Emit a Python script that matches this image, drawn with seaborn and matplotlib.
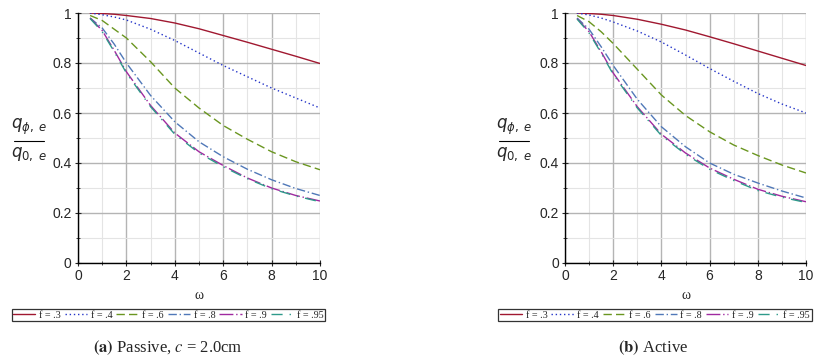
import numpy as np
import pandas as pd
import matplotlib
matplotlib.use("Agg")
import matplotlib.pyplot as plt
from matplotlib.lines import Line2D
from matplotlib.ticker import MultipleLocator
import seaborn as sns

# omega values shared by every curve
omega = [0.5, 1, 1.5, 2, 3, 4, 5, 6, 7, 8, 9, 10]
f_labels = ['f = .3', 'f = .4', 'f = .6', 'f = .8', 'f = .9', 'f = .95']

# (a) passive
passive_f3 = [1.0, 0.998, 0.995, 0.99, 0.978, 0.96, 0.937, 0.91, 0.883, 0.855, 0.827, 0.798]
passive_f4 = [1.0, 0.993, 0.984, 0.972, 0.935, 0.89, 0.84, 0.79, 0.745, 0.70, 0.66, 0.62]
passive_f6 = [0.99, 0.97, 0.935, 0.90, 0.805, 0.70, 0.62, 0.55, 0.495, 0.445, 0.405, 0.373]
passive_f8 = [0.98, 0.94, 0.875, 0.80, 0.67, 0.565, 0.485, 0.425, 0.375, 0.333, 0.298, 0.27]
passive_f9 = [0.98, 0.93, 0.85, 0.765, 0.63, 0.52, 0.445, 0.39, 0.34, 0.30, 0.27, 0.248]
passive_f95 = [0.978, 0.925, 0.845, 0.76, 0.625, 0.515, 0.44, 0.385, 0.337, 0.297, 0.268, 0.245]

# (b) active
active_f3 = [1.0, 0.998, 0.995, 0.99, 0.975, 0.955, 0.932, 0.905, 0.877, 0.848, 0.819, 0.79]
active_f4 = [1.0, 0.992, 0.98, 0.964, 0.928, 0.884, 0.832, 0.778, 0.727, 0.678, 0.636, 0.60]
active_f6 = [0.99, 0.965, 0.925, 0.878, 0.775, 0.672, 0.59, 0.525, 0.472, 0.43, 0.392, 0.36]
active_f8 = [0.98, 0.935, 0.865, 0.79, 0.655, 0.545, 0.465, 0.40, 0.355, 0.32, 0.288, 0.26]
active_f9 = [0.978, 0.925, 0.845, 0.76, 0.625, 0.515, 0.44, 0.38, 0.335, 0.295, 0.267, 0.245]
active_f95 = [0.976, 0.92, 0.84, 0.755, 0.62, 0.51, 0.435, 0.375, 0.33, 0.29, 0.263, 0.242]

x_ticks = [0, 2, 4, 6, 8, 10]
y_ticks = [0, 0.2, 0.4, 0.6, 0.8, 1.0]
y_tick_labels = ['0', '0.2', '0.4', '0.6', '0.8', '1']

colors = ['#a01830', '#2434c8', '#6a9620', '#5078b8', '#a02aa0', '#2e9a8a']
dashes = ['', (1, 2), (6, 3), (6, 2, 1, 2), (10, 2, 1, 2), (8, 5, 1, 5)]


def long_form(series):
    rows = []
    for lab, vals in zip(f_labels, series):
        for w, v in zip(omega, vals):
            rows.append({'omega': w, 'q': v, 'f': lab})
    return pd.DataFrame(rows)


df_passive = long_form([passive_f3, passive_f4, passive_f6, passive_f8, passive_f9, passive_f95])
df_active = long_form([active_f3, active_f4, active_f6, active_f8, active_f9, active_f95])

sns.set_style('white')
plt.rcParams['font.family'] = ['Liberation Sans', 'DejaVu Sans']
plt.rcParams['mathtext.fontset'] = 'dejavusans'

W, H = 823, 360
fig = plt.figure(figsize=(8.23, 3.6), dpi=100)
ax_a = fig.add_axes([78 / W, 97 / H, 242 / W, 250 / H])
ax_b = fig.add_axes([565 / W, 97 / H, 241 / W, 250 / H])

palette = dict(zip(f_labels, colors))
dash_map = dict(zip(f_labels, dashes))

for ax, df, frac_x in [(ax_a, df_passive, 29), (ax_b, df_active, 514)]:
    sns.lineplot(data=df, x='omega', y='q', hue='f', style='f', palette=palette,
                 dashes=dash_map, linewidth=1.0, ax=ax, legend=True)
    ax.set_xlim(0, 10)
    ax.set_ylim(0, 1)
    ax.set_xticks(x_ticks)
    ax.set_yticks(y_ticks)
    ax.set_yticklabels(y_tick_labels)
    ax.xaxis.set_minor_locator(MultipleLocator(1))
    ax.yaxis.set_minor_locator(MultipleLocator(0.1))
    ax.grid(which='major', color='#b4b4b4', linewidth=1.0)
    ax.grid(which='minor', color='#e4e4e4', linewidth=0.8)
    ax.set_axisbelow(True)
    for s in ['top', 'right']:
        ax.spines[s].set_visible(False)
    for s in ['left', 'bottom']:
        ax.spines[s].set_color('black')
        ax.spines[s].set_linewidth(1.0)
    ax.tick_params(which='major', direction='inout', length=5, width=0.8,
                   labelsize=10, left=True, bottom=True, pad=2)
    ax.tick_params(which='minor', direction='inout', length=3, width=0.6,
                   left=True, bottom=True)
    ax.set_xlabel('ω', family=['Liberation Serif', 'DejaVu Serif'], fontsize=10, labelpad=4)
    ax.set_ylabel('')

    # y label drawn as a stacked fraction
    fig.text(frac_x / W, 1 - 137 / H, r'$q_{\phi,\;e}$', ha='center', va='bottom', fontsize=12)
    fig.text(frac_x / W, 1 - 145 / H, r'$q_{0,\;e}$', ha='center', va='top', fontsize=12)
    fig.add_artist(Line2D([(frac_x - 15) / W, (frac_x + 15) / W], [1 - 141 / H, 1 - 141 / H],
                          color='black', linewidth=0.8))

    handles, labels = ax.get_legend_handles_labels()
    leg = ax.legend(handles, labels, loc='upper center', bbox_to_anchor=(0.373, -0.165),
                    ncol=6, frameon=True, fancybox=False, handlelength=2.2,
                    handletextpad=0.35, columnspacing=0.4, borderpad=0.15,
                    prop={'family': 'Liberation Serif', 'size': 7.3})
    leg.get_frame().set_edgecolor('black')
    leg.get_frame().set_linewidth(0.9)

serif = ['Liberation Serif', 'DejaVu Serif']
fig.text(168 / W, 1 - 348 / H, r'$\mathbf{(a)}$ Passive, $\it{c}$ = 2.0cm',
         ha='center', va='center', fontsize=12, family=serif, math_fontfamily='stix')
fig.text(653 / W, 1 - 348 / H, r'$\mathbf{(b)}$ Active',
         ha='center', va='center', fontsize=12, family=serif, math_fontfamily='stix')

fig.savefig('out.png', dpi=100)
